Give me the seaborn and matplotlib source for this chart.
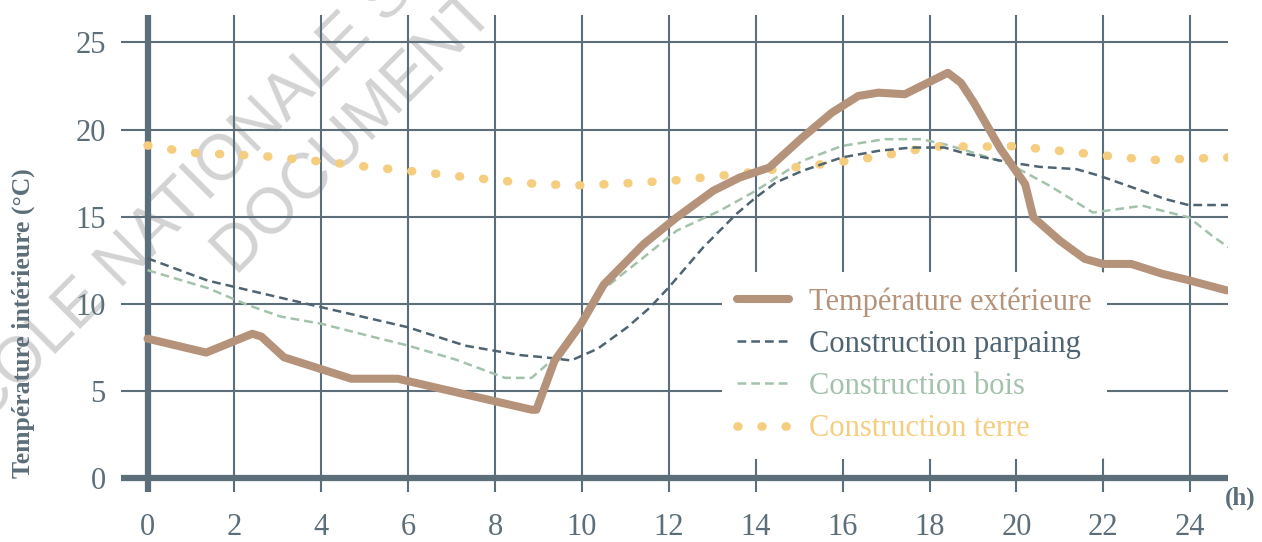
import matplotlib
matplotlib.use("Agg")
import matplotlib.pyplot as plt
import seaborn as sns

# Data (hours, °C)
hours_ext = [0, 1.35, 2.41, 2.62, 3.14, 4.69, 5.76, 8.84, 8.95, 9.37, 9.98, 10.5, 11.42, 12.18,
             13.02, 13.63, 14.31, 15.07, 15.75, 16.36, 16.82, 17.43, 17.96, 18.42, 18.72, 19.02,
             19.63, 20.2, 20.39, 21.0, 21.57, 21.99, 22.64, 23.36, 23.97, 24.84]
temp_ext = [8.0, 7.2, 8.28, 8.12, 6.93, 5.7, 5.7, 3.92, 3.92, 6.74, 8.85, 11.1, 13.43, 14.96,
            16.49, 17.25, 17.82, 19.54, 20.97, 21.93, 22.12, 22.03, 22.69, 23.26, 22.69, 21.55,
            18.9, 16.87, 14.96, 13.62, 12.58, 12.29, 12.29, 11.72, 11.35, 10.77]

hours_parpaing = [0, 1.39, 2.53, 4.01, 6.0, 7.31, 8.0, 8.6, 9.14, 9.75, 10.36, 11.04, 11.57, 12.0,
                  12.79, 13.55, 14.0, 14.46, 15.07, 15.98, 16.82, 17.58, 18.34, 18.87, 19.86,
                  20.54, 21.38, 21.91, 22.67, 23.43, 23.96, 24.87]
temp_parpaing = [12.61, 11.33, 10.66, 9.8, 8.65, 7.6, 7.3, 7.05, 6.93, 6.75, 7.42, 8.65, 9.8, 10.95,
                 13.24, 15.15, 16.1, 16.96, 17.63, 18.4, 18.78, 18.97, 18.97, 18.59, 18.11,
                 17.86, 17.73, 17.35, 16.68, 16.01, 15.67, 15.67]

hours_bois = [0, 1.39, 2.3, 3.06, 4.01, 5.19, 6.0, 7.09, 8.23, 8.84, 9.37, 9.98, 10.5, 11.42,
              12.18, 13.17, 14.0, 15.07, 15.98, 16.97, 17.81, 18.34, 18.87, 19.86, 20.77, 21.76,
              22.9, 23.97, 24.5, 24.88]
temp_bois = [11.93, 10.9, 9.94, 9.27, 8.85, 8.1, 7.6, 6.8, 5.75, 5.75, 6.9, 9.04, 10.85, 12.67,
             14.2, 15.34, 16.49, 18.2, 19.06, 19.45, 19.45, 19.16, 18.78, 18.0, 16.77, 15.24,
             15.63, 14.96, 13.91, 13.24]

hours_terre = [0, 1.0, 1.54, 2.09, 2.63, 3.18, 3.74, 4.29, 4.85, 5.41, 5.96, 6.52, 7.08, 8.0,
               9.0, 10.0, 11.12, 12.23, 13.37, 14.5, 15.66, 16.69, 17.69, 18.2, 19.37, 19.96,
               21.0, 22.06, 23.09, 23.66, 24.86]
temp_terre = [19.09, 18.67, 18.61, 18.55, 18.49, 18.35, 18.23, 18.1, 17.92, 17.78, 17.64, 17.5,
              17.34, 17.1, 16.87, 16.8, 16.93, 17.1, 17.4, 17.73, 18.05, 18.4, 18.84, 19.03,
              19.03, 19.05, 18.78, 18.5, 18.25, 18.3, 18.4]

x_ticks = list(range(0, 25, 2))
y_ticks = list(range(0, 26, 5))

# Colours
grid_col = "#5b6e79"
c_ext = "#b5937a"
c_parpaing = "#4f6472"
c_bois = "#a3c2ab"
c_terre = "#f5cd7f"

sns.set_theme(style="white")
plt.rcParams["font.family"] = ["Liberation Serif", "DejaVu Serif"]

fig = plt.figure(figsize=(12.62, 5.42), dpi=100)
ax = fig.add_axes([0.0959, 0.0923, 0.8772, 0.8801])
ax.set_facecolor("none")

# Watermark behind everything
wm = dict(color="#d3d3d3", fontsize=46, rotation=45, rotation_mode="anchor",
          ha="left", va="baseline", family="Liberation Sans", zorder=-5)
fig.text(-0.036, 0.16, "ÉCOLE NATIONALE SUPÉRIEURE", **wm)
fig.text(0.1875, 0.49, "DOCUMENT SOUMIS", **wm)

sns.lineplot(x=hours_ext, y=temp_ext, ax=ax, color=c_ext, linewidth=5.8,
             label="Température extérieure", zorder=5)
sns.lineplot(x=hours_parpaing, y=temp_parpaing, ax=ax, color=c_parpaing, linewidth=1.8,
             linestyle=(0, (3.5, 2)), label="Construction parpaing", zorder=4)
sns.lineplot(x=hours_bois, y=temp_bois, ax=ax, color=c_bois, linewidth=1.8,
             linestyle=(0, (3.5, 2)), label="Construction bois", zorder=3)
sns.lineplot(x=hours_terre, y=temp_terre, ax=ax, color=c_terre, linewidth=6.2,
             linestyle=(0, (0.1, 2.7)), dash_capstyle="round", label="Construction terre",
             zorder=3)

ax.set_xlim(-0.61, 24.87)
ax.set_ylim(-0.8, 26.58)
ax.set_xticks(x_ticks)
ax.set_yticks(y_ticks)
ax.grid(True, color=grid_col, linewidth=1.5)
ax.axvline(0, color=grid_col, linewidth=4.5, zorder=2)
ax.axhline(0, color=grid_col, linewidth=4.5, zorder=2)
for s in ax.spines.values():
    s.set_visible(False)
ax.tick_params(axis="both", length=0, labelsize=22, labelcolor=grid_col)
ax.tick_params(axis="x", pad=15)
ax.tick_params(axis="y", pad=11)

ax.set_xlabel("")
ax.set_ylabel("Température intérieure (°C)", fontsize=18.5, fontweight="bold", color=grid_col)
ax.yaxis.set_label_coords(-0.0777, 0.353)
fig.text(0.983, 0.081, "(h)", fontsize=18, fontweight="bold", color=grid_col,
         ha="center", va="center")

leg = ax.legend(loc="upper left", bbox_to_anchor=(0.543, 0.461), borderaxespad=0,
                frameon=True, facecolor="white", edgecolor="none", framealpha=1,
                fontsize=22, handlelength=1.7, handletextpad=0.65, borderpad=0.5,
                labelspacing=0.43, labelcolor="linecolor")
leg.set_zorder(6)

fig.savefig("out.png", dpi=100)
